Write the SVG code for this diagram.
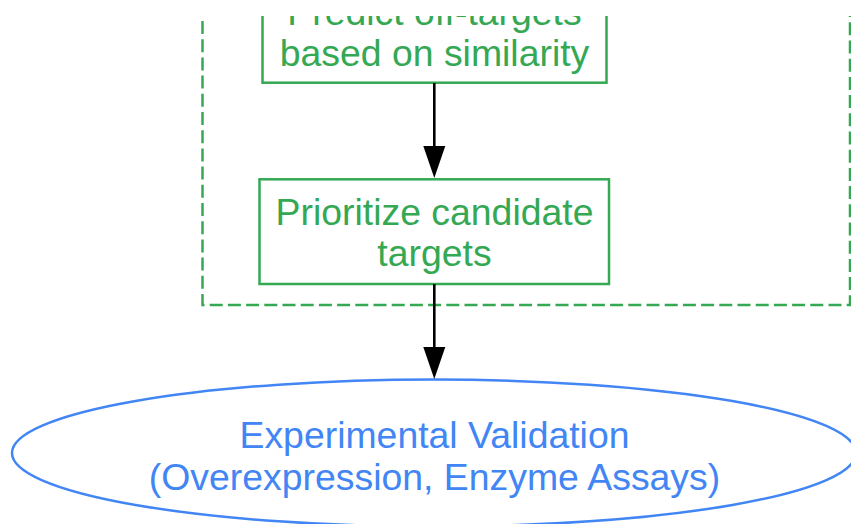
<svg xmlns="http://www.w3.org/2000/svg" width="851" height="524" viewBox="0 0 851 524">
<style>
.box{fill:none;stroke:#34a853;stroke-width:2.5}
.cluster{fill:none;stroke:#34a853;stroke-width:2.5;stroke-dasharray:13,5.2}
.gt{fill:#34a853;font-family:"Liberation Sans",Arial,sans-serif;font-size:37.4px;text-anchor:middle}
.bt{fill:#4285f4;font-family:"Liberation Sans",Arial,sans-serif;font-size:37.4px;text-anchor:middle}
.edge{stroke:#000;stroke-width:2.6;fill:none}
</style>
<defs>
<clipPath id="view"><rect x="0" y="16" width="851" height="508"/></clipPath>
</defs>
<rect width="851" height="524" fill="#fff"/>
<g clip-path="url(#view)">
<g id="cluster">
<rect class="cluster" x="202.5" y="-40" width="647.5" height="345"/>
</g>
<g id="predict">
<rect class="box" x="262.5" y="-20" width="344" height="102.7"/>
<text class="gt" x="434.5" y="24.5">Predict off-targets</text>
<text class="gt" x="434.5" y="65.5">based on similarity</text>
</g>
<g id="prioritize">
<rect class="box" x="259.5" y="179.3" width="349.5" height="104.7"/>
<text class="gt" x="434.5" y="225">Prioritize candidate</text>
<text class="gt" x="434.5" y="266">targets</text>
</g>
<g id="validation">
<ellipse cx="434" cy="453" rx="422" ry="73.5" fill="none" stroke="#4285f4" stroke-width="2.5"/>
<text class="bt" x="434.5" y="448">Experimental Validation</text>
<text class="bt" x="434.5" y="489.5">(Overexpression, Enzyme Assays)</text>
</g>
<g id="edges">
<line class="edge" x1="434.3" y1="83" x2="434.3" y2="148"/>
<polygon points="423.3,146 445.3,146 434.3,178" fill="#000"/>
<line class="edge" x1="434.3" y1="284" x2="434.3" y2="348"/>
<polygon points="423.3,347 445.3,347 434.3,379" fill="#000"/>
</g>
</g>
</svg>
